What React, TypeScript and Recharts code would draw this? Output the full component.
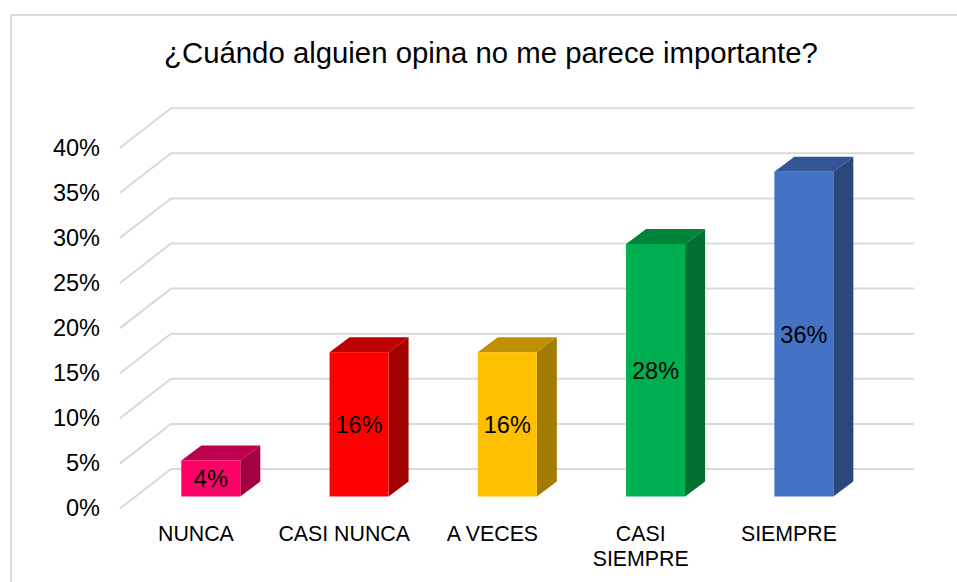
import React from "react";
import { BarChart, Bar, XAxis, YAxis, CartesianGrid, LabelList } from "recharts";

const categories = ["NUNCA", "CASI NUNCA", "A VECES", "CASI SIEMPRE", "SIEMPRE"];
const categoryLines = [["NUNCA"], ["CASI NUNCA"], ["A VECES"], ["CASI", "SIEMPRE"], ["SIEMPRE"]];
const values = [4, 16, 16, 28, 36];
const yTicks = [0, 5, 10, 15, 20, 25, 30, 35, 40];
const frontColors = ["#FF0066", "#FF0000", "#FFC000", "#00B050", "#4472C4"];
const topColors = ["#BF004D", "#BF0000", "#BF9000", "#00843C", "#335593"];
const sideColors = ["#A30041", "#A30000", "#A37B00", "#007033", "#2B487D"];
const title = "¿Cuándo alguien opina no me parece importante?";

const data = categories.map((name, i) => ({ name, value: values[i] }));

const FONT = '"Liberation Sans", Arial, sans-serif';
const DX = 20;
const DY = 15;

const GridLine = (props: any) => {
  const y = props.y1;
  return (
    <path
      key={props.key ?? y}
      d={`M120 ${y + 12} L171 ${y - 27.5} L914 ${y - 27.5}`}
      fill="none"
      stroke="#D9D9D9"
      strokeWidth={2}
    />
  );
};

const Box = (props: any) => {
  const { x, y, width, height, index } = props;
  const r = x + width;
  const b = y + height;
  return (
    <g>
      <path d={`M${x} ${y} L${x + DX} ${y - DY} L${r + DX} ${y - DY} L${r} ${y} Z`} fill={topColors[index]} />
      <path d={`M${r} ${y} L${r + DX} ${y - DY} L${r + DX} ${b - DY} L${r} ${b} Z`} fill={sideColors[index]} />
      <rect x={x} y={y} width={width} height={height} fill={frontColors[index]} />
    </g>
  );
};

const YTick = (props: any) => (
  <text x={100} y={props.y + 11.5} dy="0.355em" textAnchor="end" fontFamily={FONT} fontSize={23.5} fill="#000">
    {props.payload.value}%
  </text>
);

const XTick = (props: any) => {
  const lines = categoryLines[props.index] ?? [props.payload.value];
  return (
    <text textAnchor="middle" fontFamily={FONT} fontSize={21.33} fill="#000">
      {lines.map((line: string, i: number) => (
        <tspan key={line} x={props.x - 14.5} y={540.5 + i * 25}>
          {line}
        </tspan>
      ))}
    </text>
  );
};

export default function App() {
  return (
    <div style={{ position: "absolute", left: 0, top: 0, width: 957, height: 582, background: "#fff", overflow: "hidden" }}>
      <div style={{ position: "absolute", left: 10, top: 14, width: 947, height: 568, borderLeft: "2px solid #D9D9D9", borderTop: "2px solid #D9D9D9", boxSizing: "border-box" }} />
      <div style={{ position: "absolute", left: 0, width: 982, top: 36, textAlign: "center", fontFamily: FONT, fontSize: 29.33, lineHeight: "34px", color: "#000", whiteSpace: "nowrap" }}>
        {title}
      </div>
      <BarChart
        width={957}
        height={582}
        data={data}
        margin={{ top: 135.7, right: 79.4, bottom: 25.5, left: 36.3 }}
        style={{ position: "absolute", left: 0, top: 0 }}
      >
        <CartesianGrid vertical={false} horizontal={GridLine} />
        <XAxis dataKey="name" height={60} axisLine={false} tickLine={false} interval={0} tick={XTick} />
        <YAxis width={100} domain={[0, 40]} ticks={yTicks} axisLine={false} tickLine={false} tick={YTick} />
        <Bar dataKey="value" barSize={59} shape={Box} isAnimationActive={false}>
          <LabelList
            dataKey="value"
            position="center"
            formatter={(v: number) => `${v}%`}
            style={{ fontFamily: FONT, fontSize: 23.5, fill: "#000" }}
            dy={0.5}
          />
        </Bar>
      </BarChart>
    </div>
  );
}
